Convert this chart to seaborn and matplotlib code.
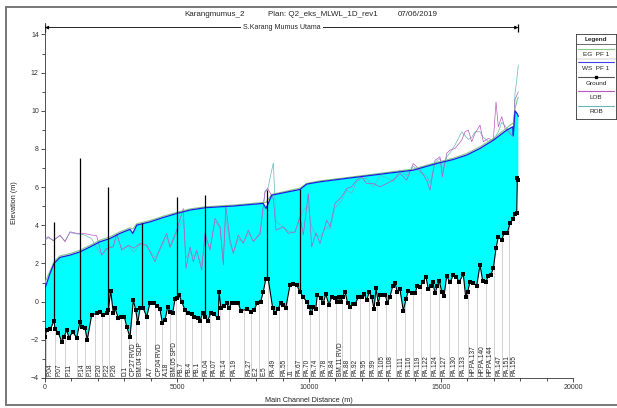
import numpy as np
import matplotlib
matplotlib.use("Agg")
import matplotlib.pyplot as plt
from matplotlib.ticker import MultipleLocator
import seaborn as sns

# ground profile (main channel distance m, elevation m)
ground_x = [0, 64, 200, 341, 379, 504, 633, 720, 822, 909, 1049, 1201, 1326, 1390, 1515, 1602,
            1769, 1958, 2083, 2208, 2360, 2398, 2489, 2587, 2652, 2777, 2868, 3004, 3095, 3220,
            3345, 3436, 3511, 3599, 3724, 3852, 3977, 4129, 4254, 4356, 4443, 4546, 4648, 4735,
            4837, 4924, 4989, 5076, 5178, 5303, 5428, 5557, 5655, 5784, 5871, 5974, 6061, 6163,
            6277, 6402, 6565, 6591, 6667, 6780, 6883, 6970, 7072, 7197, 7322, 7413, 7640, 7792,
            7917, 8042, 8171, 8269, 8360, 8458, 8625, 8712, 8815, 8940, 9027, 9118, 9280, 9406,
            9534, 9659, 9784, 9913, 10012, 10076, 10163, 10254, 10315, 10443, 10542, 10633, 10758,
            10860, 10985, 11049, 11137, 11201, 11277, 11364, 11466, 11553, 11656, 11743, 11868,
            11997, 12084, 12186, 12284, 12375, 12463, 12538, 12626, 12690, 12792, 12890, 12966,
            13069, 13171, 13258, 13345, 13447, 13572, 13674, 13761, 13890, 14016, 14103, 14205,
            14307, 14432, 14519, 14610, 14686, 14773, 14860, 14936, 15027, 15114, 15216, 15341,
            15466, 15568, 15693, 15845, 15936, 16012, 16099, 16224, 16353, 16478, 16580, 16705,
            16792, 16883, 16982, 17084, 17171, 17300, 17387, 17512, 17614, 17716, 17803, 17868,
            17891, 17929]
ground_z = [-1.84, -1.49, -1.45, -1.0, -1.43, -1.63, -2.1, -1.85, -1.49, -1.9, -1.58, -1.9, -1.05,
            -1.31, -1.38, -2.0, -0.70, -0.61, -0.53, -0.70, -0.61, -0.44, 0.57, -0.61, -0.35,
            -0.86, -0.79, -0.79, -1.31, -1.87, 0.08, -0.44, -1.14, -0.35, -0.35, -0.79, -0.06,
            -0.06, -0.23, -0.40, -1.1, -0.96, -0.27, -0.53, -0.58, 0.12, 0.17, 0.35, 0.0, -0.44,
            -0.58, -0.65, -0.79, -0.87, -1.0, -0.61, -0.79, -1.0, -0.61, -0.67, -0.87, 0.52,
            -0.35, -0.23, -0.09, -0.35, -0.06, -0.09, -0.06, -0.48, -0.40, -0.53, -0.44, -0.06,
            0.0, 0.52, 1.17, 1.17, -0.35, -0.61, -0.40, -0.06, -0.18, -0.35, 0.87, 0.91, 0.87,
            0.52, 0.23, 0.0, -0.27, -0.61, -0.30, -0.40, 0.35, 0.17, -0.09, 0.40, -0.18, 0.26,
            0.20, -0.04, 0.23, 0.0, 0.26, 0.52, -0.09, -0.30, -0.13, -0.13, 0.23, 0.23, 0.40,
            0.08, 0.52, 0.26, -0.40, 0.70, -0.13, 0.35, 0.35, 0.35, -0.06, 0.26, 0.82, 0.96,
            0.52, 0.64, -0.48, 0.12, 0.57, 0.43, 0.43, 0.83, 0.75, 1.01, 1.30, 0.64, 0.82, 1.04,
            0.43, 0.82, 1.09, 0.52, 0.29, 1.34, 1.01, 1.39, 1.30, 1.04, 1.44, 0.23, 0.52, 1.04,
            0.96, 0.83, 1.92, 1.08, 1.04, 1.34, 1.39, 1.74, 2.79, 3.40, 3.23, 3.58, 3.61, 4.10,
            4.31, 4.59, 4.62, 6.46, 6.40]

# water surface and energy grade
ws_x = [0, 189, 341, 568, 947, 1326, 1705, 2083, 2462, 2841, 3220, 3322, 3474, 3977, 4481,
        4989, 5492, 6061, 6629, 7133, 8269, 8371, 8587, 9659, 9913, 10417, 11428, 12944, 13951,
        14837, 15466, 15970, 16478, 16982, 17489, 17716, 17739, 17803, 17891, 17929]
ws_z = [0.70, 1.48, 2.0, 2.32, 2.44, 2.61, 2.87, 3.14, 3.31, 3.58, 3.79, 3.58, 4.01, 4.18, 4.41,
        4.62, 4.80, 4.92, 4.97, 5.01, 5.15, 4.88, 5.58, 5.88, 6.16, 6.28, 6.46, 6.72, 6.89, 7.24,
        7.45, 7.68, 8.03, 8.46, 8.99, 9.16, 8.72, 10.0, 9.84, 9.70]
eg_z = [1.0, 1.6, 2.1, 2.4, 2.52, 2.7, 2.95, 3.22, 3.4, 3.66, 3.87, 3.8, 4.08, 4.25, 4.48, 4.68,
        4.86, 4.97, 5.02, 5.06, 5.2, 5.2, 5.62, 5.95, 6.2, 6.33, 6.5, 6.77, 6.95, 7.3, 7.52,
        7.76, 8.12, 8.55, 9.1, 9.35, 9.3, 10.1, 10.6, 10.7]

# left / right overbank elevations
bank_x = [27, 125, 314, 568, 758, 947, 1201, 1451, 1769, 1958, 2148, 2337, 2587, 2716, 2906,
          3156, 3371, 3599, 3852, 4167, 4356, 4610, 4735, 4989, 5239, 5341, 5492, 5618, 5746,
          5936, 6061, 6250, 6440, 6629, 6754, 6845, 7008, 7133, 7322, 7511, 7701, 7890, 8144,
          8334, 8436, 8648, 8750, 9027, 9216, 9470, 9659, 9784, 9974, 10102, 10265, 10417,
          10671, 10796, 10985, 11239, 11428, 11618, 11807, 11997, 12186, 12436, 12690, 12944,
          13194, 13447, 13701, 13951, 14205, 14458, 14584, 14773, 14962, 15050, 15216, 15341,
          15530, 15784, 15909, 16035, 16163, 16288, 16478, 16603, 16792, 16982, 17084, 17171,
          17300, 17425, 17614, 17739, 17803, 17868, 17929]
lob_z = [3.31, 3.40, 3.19, 3.49, 3.14, 3.66, 3.58, 3.58, 3.49, 3.45, 2.44, 2.79, 2.87, 3.58, 2.70,
         2.96, 2.80, 3.05, 2.96, 2.09, 2.79, 3.58, 2.87, 3.75, 4.88, 1.74, 2.87, 2.09, 2.70, 1.65,
         3.58, 2.70, 4.36, 3.92, 1.92, 5.06, 3.23, 2.53, 3.49, 3.05, 3.75, 3.14, 3.58, 5.75, 5.93,
         5.40, 3.75, 3.92, 3.58, 3.66, 4.45, 3.50, 5.67, 2.87, 3.60, 3.05, 4.27, 3.92, 5.15, 5.49,
         5.93, 6.02, 6.37, 6.54, 6.19, 6.19, 6.02, 6.19, 6.37, 6.72, 6.37, 7.24, 6.89, 6.37, 5.84,
         7.41, 7.59, 6.54, 7.77, 7.94, 8.03, 8.46, 8.90, 8.99, 8.38, 8.81, 9.25, 8.38, 8.55, 8.46,
         10.46, 9.16, 9.69, 9.08, 8.81, 8.64, 10.6, 10.8, 11.0]
rob_z = [3.25, 3.35, 3.22, 3.45, 3.18, 3.62, 3.55, 3.52, 3.30, 2.80, 2.44, 2.75, 2.95, 3.50, 2.75,
         2.90, 2.60, 3.0, 2.90, 2.3, 2.7, 3.4, 2.8, 3.6, 4.3, 2.3, 2.6, 2.4, 2.6, 1.9, 3.4, 2.8,
         4.2, 3.9, 2.2, 4.5, 3.0, 2.6, 3.3, 3.1, 3.6, 3.2, 3.5, 5.8, 5.9, 7.27, 4.2, 3.9, 3.7,
         3.6, 4.4, 4.80, 5.0, 3.92, 3.5, 3.4, 3.92, 3.8, 4.9, 5.3, 5.84, 5.67, 6.28, 6.46, 6.46,
         6.0, 6.62, 6.5, 6.3, 6.9, 6.6, 7.1, 6.8, 6.6, 6.2, 7.3, 7.5, 6.8, 7.6, 7.8, 8.2, 8.9,
         8.7, 8.5, 8.6, 8.9, 8.9, 8.6, 8.4, 8.5, 8.7, 8.9, 9.4, 9.2, 8.9, 8.7, 10.9, 11.6, 12.4]

# labelled cross sections
xs_names = ["P.04", "P.07", "P.11", "P.14", "P.18", "P.20", "P.22", "P.26", "D.1", "CP.27 RVD",
            "BM.04 SDP", "A.7", "CP.04 RVD", "A.18", "BM.05 SPD", "PB.7", "PB.4", "PB.1", "PA.04",
            "PA.07", "PA.14", "PA.19", "PA.27", "E.2", "E.5", "PA.49", "PA.55", "J1", "PA.67",
            "PA.70", "PA.74", "PA.78", "PA.84", "BM.11 RVD", "PA.88", "PA.92", "PA.95", "PA.99",
            "PA.105", "PA.108", "PA.111", "PA.116", "PA.119", "PA.122", "PA.124", "PA.127",
            "PA.130", "PA.133", "HP.PA.137", "HP.PA.140", "HP.PA.144", "PA.147", "PA.151", "PA.155"]
xs_x = [27, 367, 746, 1212, 1527, 1883, 2159, 2424, 2868, 3182, 3436, 3837, 4155, 4443, 4723,
        4974, 5300, 5575, 5921, 6239, 6618, 6970, 7538, 7814, 8106, 8447, 8864, 9178, 9459,
        9735, 10038, 10379, 10682, 11023, 11262, 11565, 11921, 12262, 12588, 12906, 13307,
        13626, 13940, 14255, 14595, 14925, 15303, 15644, 16023, 16364, 16693, 17008, 17311, 17576]

# structures (vertical black lines)
struct_x = [341, 1337, 2398, 3663, 4989, 6050, 8398, 9659]
struct_bot = [-1.0, -1.05, -0.44, -0.35, 0.17, -0.79, 1.17, 0.52]
struct_top = [4.18, 7.52, 6.0, 4.1, 5.5, 5.6, 5.84, 5.9]

W, H = 617, 408
sns.set_style("ticks")
plt.rcParams["font.family"] = ["Liberation Sans", "DejaVu Sans"]

fig = plt.figure(figsize=(W / 100, H / 100), dpi=100)
ax = fig.add_axes([45 / W, (H - 378) / H, (573 - 45) / W, (378 - 23) / H])
ytop = 14.6

gx, gz = np.array(ground_x), np.array(ground_z)
wx, wz = np.array(ws_x), np.array(ws_z)

# station lines, hidden above ground by a white polygon
ax.vlines(xs_x, -4, ytop, color="#cccccc", lw=0.6, zorder=1)
ax.fill(np.concatenate([gx, [gx[-1], gx[0]]]), np.concatenate([gz, [ytop, ytop]]),
        color="white", lw=0, zorder=1.5)
ax.fill(np.concatenate([gx, wx[::-1]]), np.concatenate([gz, wz[::-1]]),
        color="#00FFFF", lw=0, zorder=2)

sns.lineplot(x=bank_x, y=rob_z, color="#66b8bc", lw=0.5, sort=False, estimator=None, ax=ax, zorder=3)
sns.lineplot(x=bank_x, y=lob_z, color="#b858c0", lw=0.5, sort=False, estimator=None, ax=ax, zorder=3)
sns.lineplot(x=ws_x, y=eg_z, color="#86c886", lw=0.8, sort=False, estimator=None, ax=ax, zorder=4)
sns.lineplot(x=ws_x, y=ws_z, color="#2020e0", lw=0.9, sort=False, estimator=None, ax=ax, zorder=5)
ax.vlines(struct_x, struct_bot, struct_top, color="black", lw=0.9, zorder=6)
sns.lineplot(x=ground_x, y=ground_z, color="black", lw=0.8, marker="s", markersize=2.4,
             markeredgewidth=0, sort=False, estimator=None, ax=ax, zorder=7)

for name, x in zip(xs_names, xs_x):
    ax.text(x + 40, -3.9, name, rotation=90, ha="left", va="bottom", fontsize=4.7,
            color="#222222", zorder=8)

# reach arrow
ya = 14.36
ax.annotate("", xy=(0, ya), xytext=(gx[-1], ya),
            arrowprops=dict(arrowstyle="<|-|>", lw=0.6, color="black", mutation_scale=5,
                            shrinkA=0, shrinkB=0))
ax.vlines([0, gx[-1]], ya - 0.25, ya + 0.2, color="black", lw=0.9)
ax.text(8980, ya, "S.Karang Mumus Utama", ha="center", va="center", fontsize=5,
        bbox=dict(facecolor="white", edgecolor="none", pad=1.5))

ax.set_xlim(0, 20000)
ax.set_ylim(-4, ytop)
ax.set_xticks([0, 5000, 10000, 15000, 20000])
ax.set_yticks(np.arange(-4, 15, 2))
ax.xaxis.set_minor_locator(MultipleLocator(1000))
ax.yaxis.set_minor_locator(MultipleLocator(1))
ax.tick_params(which="both", direction="out", length=3, width=0.6, colors="#333333",
               labelsize=5, pad=1.5)
ax.tick_params(which="minor", length=2)
for s in ["top", "right"]:
    ax.spines[s].set_visible(False)
for s in ["left", "bottom"]:
    ax.spines[s].set_linewidth(0.6)
    ax.spines[s].set_color("#333333")
ax.set_xlabel("")
ax.set_ylabel("")

fig.text(309 / W, 1 - 401 / H, "Main Channel Distance (m)", ha="center", va="center", fontsize=5.2)
fig.text(15 / W, 1 - 203 / H, "Elevation (m)", ha="center", va="center", rotation=90, fontsize=5.2)

# title pieces
ty = 1 - 15 / H
fig.text(184 / W, ty, "Karangmumus_2", ha="left", va="center", fontsize=5.8)
fig.text(268 / W, ty, "Plan: Q2_eks_MLWL_1D_rev1", ha="left", va="center", fontsize=5.8)
fig.text(398 / W, ty, "07/06/2019", ha="left", va="center", fontsize=5.8)

# outer frame
fig.add_artist(plt.Line2D([6 / W, 6 / W], [1 - 405 / H, 1 - 7 / H], transform=fig.transFigure,
                          color="#777777", lw=1.4))
fig.add_artist(plt.Line2D([6 / W, 1], [1 - 7 / H, 1 - 7 / H], transform=fig.transFigure,
                          color="#777777", lw=1.4))
fig.add_artist(plt.Line2D([6 / W, 1], [1 - 405 / H, 1 - 405 / H], transform=fig.transFigure,
                          color="#777777", lw=1.4))

# legend box
lg = fig.add_axes([576 / W, 1 - 119 / H, 40 / W, 85 / H])
lg.set_xlim(0, 40)
lg.set_ylim(85, 0)
lg.set_xticks([])
lg.set_yticks([])
for s in lg.spines.values():
    s.set_linewidth(0.6)
    s.set_color("#333333")
lg.text(20, 5, "Legend", ha="center", va="center", fontsize=4.6, fontweight="bold")
lg.plot([0, 40], [9.5, 9.5], color="#333333", lw=0.5)
entries = [("EG  PF 1", "#86c886", 15, 20), ("WS  PF 1", "#4040ee", 28, 35),
           ("Ground", "#555555", 43, 49), ("LOB", "#b858c0", 57, 63), ("ROB", "#66b8bc", 72, 77)]
for label, col, yl, yt in entries:
    lg.plot([2, 38], [yl, yl], color=col, lw=0.8)
    lg.text(20, yt, label, ha="center", va="center", fontsize=4.6, color="#222222")
lg.plot([20], [43], marker="s", color="black", markersize=2)
lg.plot([0, 40], [24.5, 24.5], color="#999999", lw=0.3)

fig.savefig("out.png", dpi=100)
